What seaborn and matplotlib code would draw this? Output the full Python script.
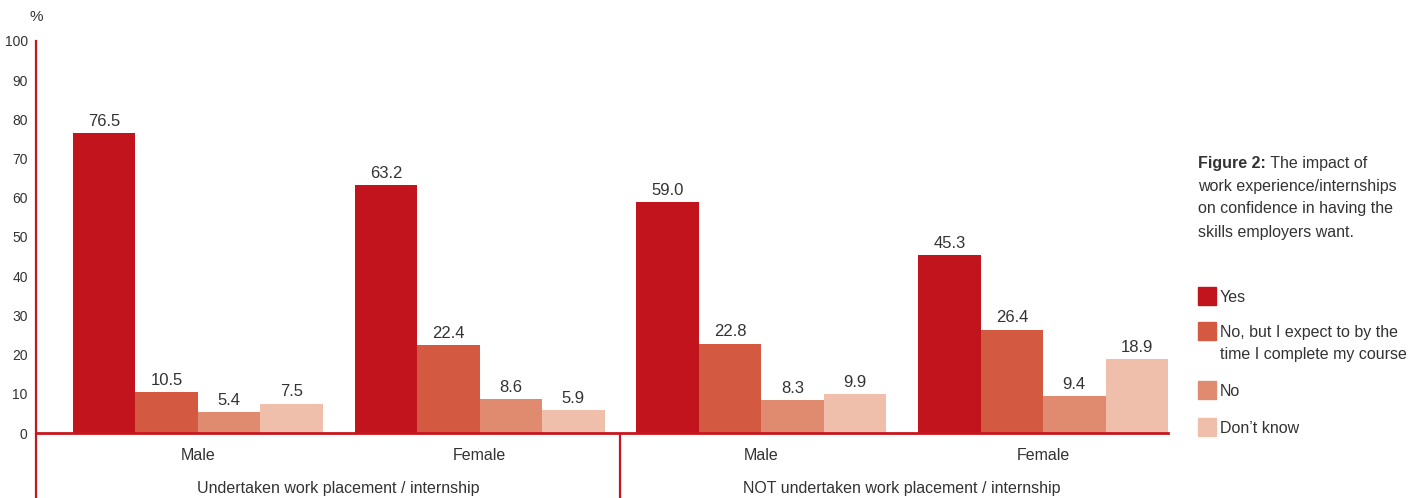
import matplotlib
matplotlib.use("Agg")
import matplotlib.pyplot as plt
import matplotlib.patches as mpatches
import seaborn as sns
import pandas as pd

# --- data -------------------------------------------------------------
groups = ["Undertaken work placement / internship",
          "NOT undertaken work placement / internship"]
genders = ["Male", "Female"]
responses = ["Yes",
             "No, but I expect to by the\ntime I complete my course",
             "No",
             "Don\u2019t know"]
yes_vals = [76.5, 63.2, 59.0, 45.3]
no_but_vals = [10.5, 22.4, 22.8, 26.4]
no_vals = [5.4, 8.6, 8.3, 9.4]
dont_know_vals = [7.5, 5.9, 9.9, 18.9]
y_ticks = list(range(0, 101, 10))

colors = ["#C1141D", "#D35A40", "#E08A70", "#F0BFAB"]
text_col = "#333333"
red = "#C8161F"

# long-form table: one row per bar
keys = [f"{g}|{s}" for g in groups for s in genders]
rows = []
for resp, vals in zip(responses, [yes_vals, no_but_vals, no_vals, dont_know_vals]):
    for k, v in zip(keys, vals):
        rows.append({"key": k, "response": resp, "value": v})
df = pd.DataFrame(rows)

sns.set_theme(style="white")
plt.rcParams["font.family"] = ["Liberation Sans", "DejaVu Sans"]

W, H = 1410, 498
fig = plt.figure(figsize=(W / 100, H / 100), dpi=100)
ax = fig.add_axes([36 / W, 65 / H, 1132 / W, 392 / H])

sns.barplot(data=df, x="key", y="value", hue="response", order=keys,
            hue_order=responses, palette=colors, width=0.887, gap=0,
            saturation=1, legend=False, ax=ax, errorbar=None, linewidth=0)

for cont in ax.containers:
    ax.bar_label(cont, fmt="%.1f", padding=3, fontsize=12, color=text_col)

ax.set_xlim(-0.5745, 3.4435)
ax.set_ylim(0, 100)
ax.set_yticks(y_ticks)
ax.set_xlabel("")
ax.set_ylabel("")
ax.set_xticks(range(len(keys)))
ax.set_xticklabels([k.split("|")[1] for k in keys], fontsize=11.5, color=text_col)
ax.tick_params(axis="x", length=0, pad=11)
ax.tick_params(axis="y", direction="in", length=7, width=1.6, color=red,
               labelsize=10, labelcolor=text_col, pad=6)

for side in ["top", "right"]:
    ax.spines[side].set_visible(False)
ax.spines["left"].set_color(red)
ax.spines["left"].set_linewidth(1.6)
ax.spines["bottom"].set_color(red)
ax.spines["bottom"].set_linewidth(2.0)

# axis line continues below the baseline, plus the group divider
ax.plot([0, 0], [0, -17], transform=ax.get_yaxis_transform(), color=red,
        lw=1.6, clip_on=False, solid_capstyle="butt")
ax.plot([1.5, 1.5], [0, -17], color=red, lw=1.6, clip_on=False,
        solid_capstyle="butt")

# group labels under the gender labels
for i, g in enumerate(groups):
    ax.text(2 * i + 0.5, -14.2, g, ha="center", va="center", fontsize=11.5,
            color=text_col, clip_on=False)

fig.text(36 / W, 1 - 17 / H, "%", ha="center", va="center", fontsize=11,
         color=text_col)

# caption: bold heading followed by regular text on the same line
cap_fs = 11.5
head = fig.text(1198 / W, 1 - 163 / H, "Figure 2:", ha="left", va="center",
                fontsize=cap_fs, fontweight="bold", color=text_col)
ax.annotate(" The impact of", xy=(1, 0), xycoords=head, ha="left",
            va="bottom", fontsize=cap_fs, color=text_col,
            annotation_clip=False)
for i, line in enumerate(["work experience/internships",
                          "on confidence in having the",
                          "skills employers want."]):
    fig.text(1198 / W, 1 - (186 + 23 * i) / H, line, ha="left", va="center",
             fontsize=cap_fs, color=text_col)

# legend swatches and labels
sw_tops = [287, 322, 381, 418]
for top, col, lab in zip(sw_tops, colors, responses):
    fig.patches.append(mpatches.Rectangle((1198 / W, 1 - (top + 18) / H),
                                          18 / W, 18 / H, color=col,
                                          transform=fig.transFigure))
    for j, part in enumerate(lab.split("\n")):
        fig.text(1220 / W, 1 - (top + 10 + 22 * j) / H, part, ha="left",
                 va="center", fontsize=cap_fs, color=text_col)

fig.savefig("out.png", dpi=100)
